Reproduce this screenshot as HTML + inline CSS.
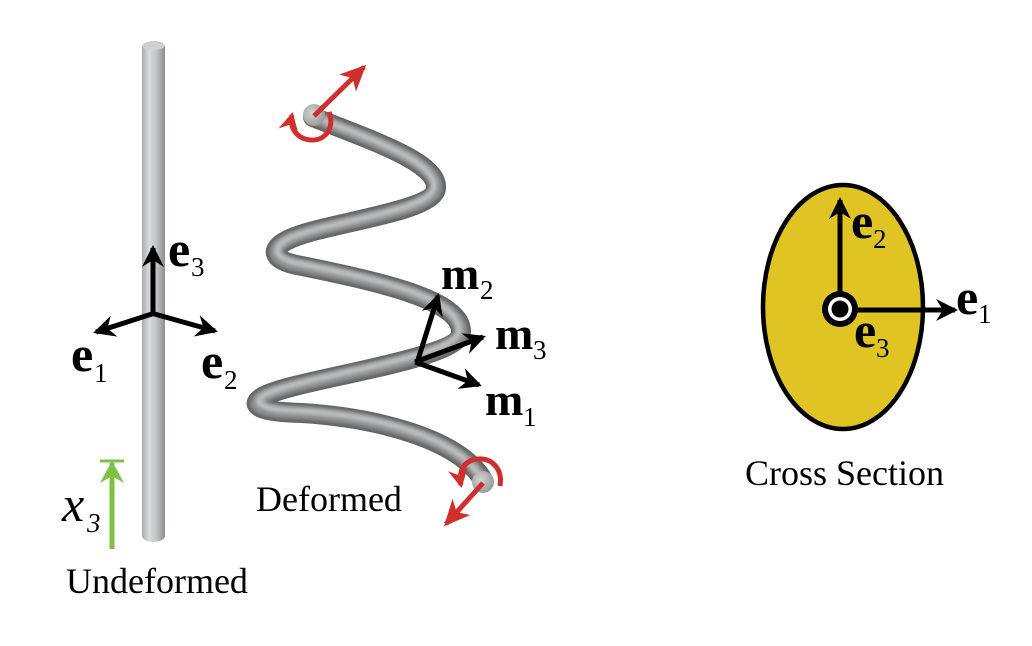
<!DOCTYPE html>
<html>
<head>
<meta charset="utf-8">
<style>
html,body{margin:0;padding:0;background:#fff;}
svg{display:block;}
text{font-family:"Liberation Serif","Times New Roman",serif;}
</style>
</head>
<body>
<svg width="1032" height="646" viewBox="0 0 1032 646" xmlns="http://www.w3.org/2000/svg">
<defs>
  <linearGradient id="rod" x1="0" y1="0" x2="1" y2="0">
    <stop offset="0" stop-color="#a9aaac"/>
    <stop offset="0.3" stop-color="#d9dadc"/>
    <stop offset="0.6" stop-color="#c6c7c9"/>
    <stop offset="1" stop-color="#8c8d8f"/>
  </linearGradient>
  <radialGradient id="cap" cx="0.4" cy="0.4" r="0.7">
    <stop offset="0" stop-color="#d4d4d4"/>
    <stop offset="1" stop-color="#939393"/>
  </radialGradient>
  <filter id="blur" x="-10%" y="-10%" width="120%" height="120%">
    <feGaussianBlur stdDeviation="2.2"/>
  </filter>
  <filter id="blur1" x="-10%" y="-10%" width="120%" height="120%">
    <feGaussianBlur stdDeviation="1.5"/>
  </filter>
  <marker id="ak" markerUnits="userSpaceOnUse" viewBox="-24 -14 30 28" refX="0" refY="0" markerWidth="30" markerHeight="28" orient="auto" overflow="visible">
    <path d="M3,0 L-19,-11 L-12,0 L-19,11 Z" fill="#000"/>
  </marker>
  <marker id="ar" markerUnits="userSpaceOnUse" viewBox="-28 -14 34 28" refX="0" refY="0" markerWidth="34" markerHeight="28" orient="auto" overflow="visible">
    <path d="M3,0 L-23,-12 L-16,0 L-23,12 Z" fill="#d12f2e"/>
  </marker>
  <marker id="ar2" markerUnits="userSpaceOnUse" viewBox="-22 -14 28 28" refX="0" refY="0" markerWidth="28" markerHeight="28" orient="auto" overflow="visible">
    <path d="M3,0 L-16,-10 L-10,0 L-16,10 Z" fill="#d12f2e"/>
  </marker>
  <marker id="ag" markerUnits="userSpaceOnUse" viewBox="-24 -14 30 28" refX="0" refY="0" markerWidth="30" markerHeight="28" orient="auto" overflow="visible">
    <path d="M2,0 L-20,-12 L-13,0 L-20,12 Z" fill="#7cc242"/>
  </marker>
</defs>

<!-- Undeformed rod -->
<rect x="142" y="41" width="23" height="501" rx="11.5" ry="6" fill="url(#rod)"/>
<ellipse cx="153.5" cy="46" rx="11" ry="4" fill="#cfd0d2"/>

<!-- e frame on rod -->
<g stroke="#000" stroke-width="5" fill="none" stroke-linecap="butt">
  <line x1="153" y1="315" x2="153" y2="248" marker-end="url(#ak)"/>
  <line x1="155" y1="313" x2="96" y2="332" marker-end="url(#ak)"/>
  <line x1="151" y1="313" x2="215" y2="331" marker-end="url(#ak)"/>
</g>
<text x="168" y="266" font-size="50" font-weight="bold">e</text>
<text x="191" y="276" font-size="27">3</text>
<text x="71" y="371" font-size="50" font-weight="bold">e</text>
<text x="94" y="382" font-size="27">1</text>
<text x="201" y="378" font-size="50" font-weight="bold">e</text>
<text x="224" y="389" font-size="27">2</text>

<!-- green x3 arrow -->
<line x1="112" y1="549" x2="112" y2="463" stroke="#7cc242" stroke-width="5" marker-end="url(#ag)"/>
<line x1="100" y1="461" x2="124" y2="461" stroke="#7cc242" stroke-width="3"/>
<text x="62" y="521" font-size="50" font-style="italic">x</text>
<text x="87" y="532" font-size="27" font-style="italic">3</text>

<text x="66" y="593" font-size="36">Undeformed</text>

<!-- Deformed helix -->
<g fill="none" stroke-linecap="round" stroke-linejoin="round">
  <path d="M313,117 C370,140 438,162 436,188 C434,212 330,222 292,238 C268,248 270,261 302,266 C380,282 462,300 461,332 C460,360 300,378 264,396 C246,406 262,412 302,413 C380,418 460,440 483,480" stroke="#636466" stroke-width="20"/>
  <path d="M313,117 C370,140 438,162 436,188 C434,212 330,222 292,238 C268,248 270,261 302,266 C380,282 462,300 461,332 C460,360 300,378 264,396 C246,406 262,412 302,413 C380,418 460,440 483,480" stroke="#898a8c" stroke-width="13" filter="url(#blur1)"/>
  <path d="M313,116 C370,139 436,161 434,187 C432,211 330,221 292,237 C270,247 272,259 302,264 C380,280 460,298 459,331 C458,358 300,376 264,395 C250,404 264,410 302,411 C380,416 458,438 481,478" stroke="#c2c3c5" stroke-width="6" filter="url(#blur)"/>
</g>
<!-- end caps -->
<circle cx="314" cy="115" r="11" fill="url(#cap)"/>
<circle cx="483" cy="482" r="11" fill="url(#cap)"/>

<!-- red arrows top -->
<line x1="314" y1="116" x2="364" y2="67" stroke="#d12f2e" stroke-width="5" marker-end="url(#ar)"/>
<path d="M329,112 C335,128 325,141 311,140 C297,139 289,128 292,115" fill="none" stroke="#d12f2e" stroke-width="5" marker-end="url(#ar2)"/>
<!-- red arrows bottom -->
<line x1="483" y1="483" x2="446" y2="524" stroke="#d12f2e" stroke-width="5" marker-end="url(#ar)"/>
<path d="M500,486 C503,468 491,458 478,459 C465,460 458,470 461,485" fill="none" stroke="#d12f2e" stroke-width="5" marker-end="url(#ar2)"/>

<!-- m frame -->
<g stroke="#000" stroke-width="5" fill="none">
  <line x1="417" y1="363" x2="438" y2="296" marker-end="url(#ak)"/>
  <line x1="415" y1="362" x2="483" y2="337" marker-end="url(#ak)"/>
  <line x1="415" y1="362" x2="479" y2="385" marker-end="url(#ak)"/>
</g>
<text x="441" y="289" font-size="46" font-weight="bold">m</text>
<text x="480" y="299" font-size="27">2</text>
<text x="495" y="349" font-size="46" font-weight="bold">m</text>
<text x="533" y="359" font-size="27">3</text>
<text x="485" y="415" font-size="46" font-weight="bold">m</text>
<text x="523" y="426" font-size="27">1</text>

<text x="256" y="511" font-size="36">Deformed</text>

<!-- Cross section -->
<ellipse cx="843" cy="307" rx="80" ry="122" fill="#e0c424" stroke="#000" stroke-width="4.5"/>
<g stroke="#000" stroke-width="5" fill="none">
  <line x1="840" y1="300" x2="840" y2="200" marker-end="url(#ak)"/>
  <line x1="845" y1="310" x2="955" y2="310" marker-end="url(#ak)"/>
</g>
<circle cx="840" cy="309" r="18" fill="#000"/>
<circle cx="840" cy="309" r="12" fill="#fff"/>
<circle cx="840" cy="309" r="8.5" fill="#000"/>
<text x="851" y="238" font-size="50" font-weight="bold">e</text>
<text x="873" y="248" font-size="27">2</text>
<text x="956" y="314" font-size="50" font-weight="bold">e</text>
<text x="978" y="323" font-size="27">1</text>
<text x="854" y="347" font-size="50" font-weight="bold">e</text>
<text x="876" y="357" font-size="27">3</text>

<text x="745" y="485" font-size="36">Cross Section</text>
</svg>
</body>
</html>
